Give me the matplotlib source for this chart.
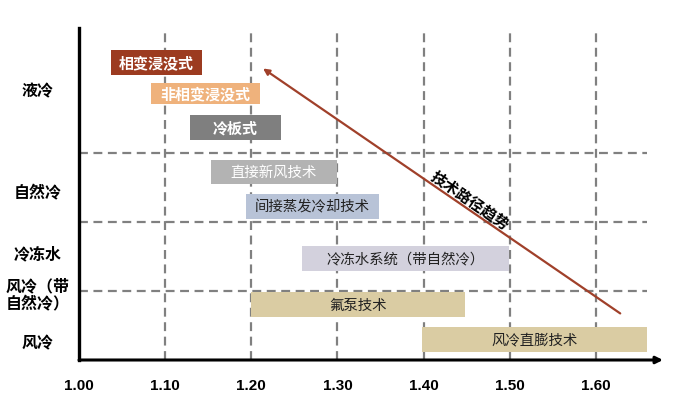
import matplotlib.pyplot as plt

plt.rcParams['font.family'] = ['Noto Sans CJK SC', 'DejaVu Sans']

# technology bars: name, start, end (PUE), row centre, bar height
techs = ["相变浸没式", "非相变浸没式", "冷板式", "直接新风技术", "间接蒸发冷却技术",
         "冷冻水系统（带自然冷）", "氟泵技术", "风冷直膨技术"]
starts = [1.037, 1.084, 1.129, 1.153, 1.194, 1.259, 1.200, 1.398]
ends = [1.143, 1.210, 1.234, 1.299, 1.348, 1.499, 1.448, 1.660]
rows = [4.31, 3.86, 3.37, 2.72, 2.22, 1.47, 0.80, 0.30]
heights = [0.36, 0.30, 0.36, 0.35, 0.36, 0.36, 0.36, 0.36]
colors = ["#9c3b20", "#efb27c", "#7f7f7f", "#b3b3b3", "#b8c3d7",
          "#d3d1dd", "#dacca3", "#dacca3"]
text_colors = ["white", "white", "white", "white", "#222222",
               "#222222", "#222222", "#222222"]
text_weights = ["bold", "bold", "bold", "normal", "normal",
                "normal", "normal", "normal"]

# category labels on the left
cat_labels = ["液冷", "自然冷", "冷冻水", "风冷（带\n自然冷）", "风冷"]
cat_pos = [3.93, 2.45, 1.57, 0.99, 0.28]
row_bounds = [1, 2, 3]

xticks = [1.00, 1.10, 1.20, 1.30, 1.40, 1.50, 1.60]
xmax, ymax = 1.678, 4.81

fig = plt.figure(figsize=(6.84, 4.10), dpi=100)
ax = fig.add_axes([79 / 684, 49 / 410, 584 / 684, 332 / 410])
ax.set_xlim(1.0, xmax)
ax.set_ylim(0, ymax)

# dashed grid
for x in xticks[1:]:
    ax.vlines(x, 0, ymax, colors="#808080", linestyles=(0, (4, 2.5)), lw=1.6, zorder=1)
for y in row_bounds:
    ax.hlines(y, 1.0, 1.66, colors="#808080", linestyles=(0, (4, 2.5)), lw=1.6, zorder=1)

for name, s, e, r, h, c, tc, tw in zip(techs, starts, ends, rows, heights,
                                       colors, text_colors, text_weights):
    ax.barh(r, e - s, left=s, height=h, color=c, zorder=2)
    ax.text((s + e) / 2, r, name, ha="center", va="center",
            fontsize=10.8 if tw == "bold" else 10.4,
            color=tc, fontweight=tw, zorder=3)

# trend arrow
ax.annotate("", xy=(1.211, 4.246), xytext=(1.631, 0.652),
            arrowprops=dict(arrowstyle="-|>", color="#a0402a", lw=1.6,
                            mutation_scale=9), zorder=4)
ax.text(1.454, 2.33, "技术路径趋势", rotation=-34.5, ha="center", va="center",
        fontsize=11, fontweight="bold", color="black", rotation_mode="anchor", zorder=4)

# axes
for sp in ["top", "right", "bottom"]:
    ax.spines[sp].set_visible(False)
ax.spines["left"].set_linewidth(2.4)
ax.spines["left"].set_color("black")
ax.annotate("", xy=(1.0, 0), xytext=(xmax, 0), xycoords="data",
            arrowprops=dict(arrowstyle="<|-", color="black", lw=2.2,
                            mutation_scale=10, shrinkA=0, shrinkB=0),
            annotation_clip=False)

ax.set_xticks(xticks)
ax.set_xticklabels([f"{v:.2f}" for v in xticks], fontsize=11, fontweight="bold",
                   family=["Liberation Sans", "DejaVu Sans"])
ax.set_yticks(cat_pos)
ax.set_yticklabels(cat_labels, fontsize=11.5, fontweight="bold",
                   ha="center", multialignment="center")
ax.tick_params(axis="x", length=0, pad=13)
ax.tick_params(axis="y", length=0, pad=30)

fig.savefig("out.png", dpi=100)
